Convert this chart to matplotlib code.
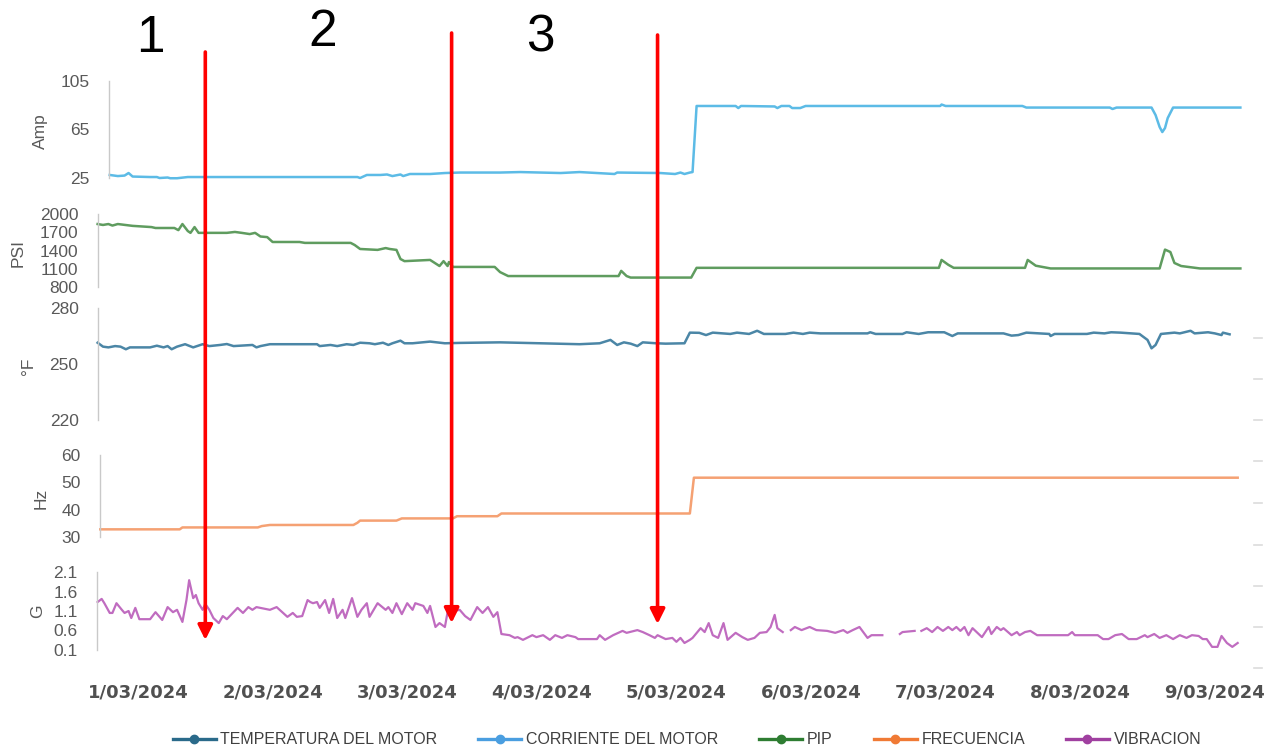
import matplotlib
matplotlib.use("Agg")
import matplotlib.pyplot as plt
from matplotlib.lines import Line2D

nan = float("nan")

# ---- data (time in days since 1/03/2024 00:00) ----
date_labels = ["1/03/2024", "2/03/2024", "3/03/2024", "4/03/2024", "5/03/2024",
               "6/03/2024", "7/03/2024", "8/03/2024", "9/03/2024"]
date_ticks = [0, 1, 2, 3, 4, 5, 6, 7, 8]

# motor current (Amp)
amp_t = [-0.21, -0.15, -0.10, -0.07, -0.04, 0.09, 0.14, 0.16, 0.22, 0.24,
         0.29, 0.37, 0.91, 1.63, 1.65, 1.70, 1.80, 1.85, 1.89, 1.95,
         1.97, 2.02, 2.17, 2.28, 2.39, 2.69, 2.84, 3.14, 3.28, 3.54,
         3.56, 3.88, 3.99, 4.03, 4.06, 4.10, 4.12, 4.15, 4.44, 4.46,
         4.48, 4.73, 4.75, 4.78, 4.84, 4.86, 4.92, 4.96, 5.96, 5.97,
         6.00, 6.57, 6.60, 7.22, 7.24, 7.27, 7.53, 7.56, 7.59, 7.61,
         7.63, 7.65, 7.69, 8.19]
amp_v = [27.5, 26.6, 27.0, 29.1, 26.2, 25.8, 25.8, 25.0, 25.4, 24.8,
         24.8, 25.8, 25.8, 25.8, 25.0, 27.5, 27.5, 27.9, 26.6, 27.9,
         26.6, 28.3, 28.3, 29.1, 29.5, 29.5, 29.9, 29.1, 29.9, 28.3,
         29.5, 29.1, 28.3, 29.5, 28.3, 29.5, 29.9, 84.4, 84.4, 82.7,
         84.4, 84.0, 82.7, 84.4, 84.4, 82.7, 82.7, 84.4, 84.4, 85.6,
         84.4, 84.4, 83.1, 83.1, 81.9, 83.1, 83.1, 76.9, 67.1, 62.9,
         66.2, 74.4, 83.1, 83.1]

# pump intake pressure (PSI)
psi_t = [-0.30, -0.26, -0.22, -0.19, -0.15, -0.04, 0.10, 0.13, 0.27, 0.30,
         0.33, 0.37, 0.39, 0.42, 0.45, 0.66, 0.72, 0.77, 0.83, 0.87,
         0.91, 0.96, 1.00, 1.20, 1.24, 1.58, 1.61, 1.65, 1.78, 1.84,
         1.87, 1.92, 1.95, 1.98, 2.17, 2.24, 2.27, 2.30, 2.31, 2.34,
         2.65, 2.69, 2.75, 3.57, 3.59, 3.63, 3.66, 4.11, 4.15, 5.95,
         5.97, 6.02, 6.06, 6.59, 6.61, 6.67, 6.78, 7.59, 7.63, 7.67,
         7.70, 7.75, 7.89, 8.19]
psi_v = [1835, 1820, 1835, 1810, 1835, 1805, 1785, 1770, 1770, 1735,
         1835, 1720, 1690, 1785, 1690, 1690, 1705, 1690, 1670, 1690,
         1630, 1620, 1540, 1540, 1525, 1525, 1490, 1425, 1410, 1440,
         1425, 1410, 1260, 1225, 1245, 1145, 1225, 1145, 1210, 1130,
         1130, 1045, 980, 980, 1065, 980, 955, 955, 1115, 1115,
         1245, 1165, 1115, 1115, 1245, 1150, 1105, 1105, 1415, 1375,
         1195, 1145, 1105, 1105]

# motor temperature (°F)
temp_t = [-0.30, -0.26, -0.22, -0.17, -0.13, -0.09, -0.06, 0.09, 0.14, 0.19,
          0.22, 0.25, 0.29, 0.35, 0.41, 0.48, 0.53, 0.61, 0.66, 0.71,
          0.85, 0.88, 0.91, 0.98, 1.33, 1.35, 1.43, 1.48, 1.55, 1.60,
          1.65, 1.72, 1.76, 1.82, 1.86, 1.89, 1.95, 1.98, 2.04, 2.17,
          2.28, 2.39, 2.69, 2.99, 3.28, 3.43, 3.51, 3.56, 3.61, 3.66,
          3.71, 3.75, 3.85, 3.92, 4.06, 4.10, 4.17, 4.22, 4.27, 4.40,
          4.45, 4.54, 4.60, 4.65, 4.81, 4.87, 4.94, 4.99, 5.07, 5.42,
          5.44, 5.48, 5.68, 5.71, 5.80, 5.87, 5.99, 6.05, 6.09, 6.43,
          6.49, 6.54, 6.60, 6.77, 6.78, 6.81, 7.05, 7.10, 7.18, 7.23,
          7.30, 7.44, 7.50, 7.53, 7.56, 7.60, 7.70, 7.74, 7.82, 7.85,
          7.95, 8.00, 8.05, 8.06, 8.11]
temp_v = [261.4, 259.3, 258.9, 259.6, 259.3, 257.9, 258.9, 258.9, 259.8, 258.9,
          259.6, 257.9, 259.3, 260.6, 258.9, 260.6, 259.6, 260.2, 260.7, 259.6,
          260.2, 258.9, 259.6, 260.6, 260.6, 259.6, 260.2, 259.6, 260.6, 260.2,
          261.4, 261.1, 260.6, 261.4, 260.2, 261.1, 262.5, 261.1, 261.1, 262.0,
          261.1, 261.3, 261.6, 261.1, 260.6, 261.1, 262.9, 260.2, 261.6, 260.9,
          259.6, 261.6, 261.1, 260.9, 261.1, 266.8, 266.7, 265.5, 266.8, 266.1,
          266.8, 266.1, 267.8, 266.1, 266.1, 266.8, 266.1, 266.8, 266.4, 266.4,
          267.0, 266.1, 266.1, 267.0, 266.1, 267.0, 267.0, 265.0, 266.4, 266.4,
          265.2, 265.5, 266.8, 266.1, 265.0, 266.1, 266.1, 266.8, 266.4, 267.0,
          266.8, 266.1, 262.9, 258.4, 260.2, 266.1, 266.8, 266.4, 267.8, 266.4,
          267.0, 266.4, 265.5, 266.8, 265.9]

# drive frequency (Hz)
hz_t = [-0.28, 0.31, 0.33, 0.89, 0.92, 0.98, 1.60, 1.63, 1.65, 1.92,
        1.96, 2.34, 2.37, 2.67, 2.70, 4.10, 4.13, 8.17]
hz_v = [32.8, 32.8, 33.5, 33.5, 34.0, 34.4, 34.4, 35.2, 36.0, 36.0,
        36.8, 36.8, 37.6, 37.6, 38.6, 38.6, 51.7, 51.7]

# vibration (G); nan marks missing readings
vib_t = [-0.30, -0.27, -0.25, -0.21, -0.19, -0.16, -0.12, -0.10, -0.07, -0.05,
         -0.02, 0.01, 0.09, 0.13, 0.18, 0.22, 0.26, 0.29, 0.33, 0.36,
         0.38, 0.41, 0.43, 0.45, 0.48, 0.50, 0.53, 0.56, 0.60, 0.63,
         0.66, 0.74, 0.78, 0.82, 0.85, 0.88, 0.98, 1.03, 1.11, 1.15,
         1.18, 1.22, 1.26, 1.28, 1.30, 1.33, 1.35, 1.39, 1.42, 1.45,
         1.48, 1.52, 1.54, 1.59, 1.63, 1.66, 1.70, 1.72, 1.78, 1.84,
         1.86, 1.89, 1.92, 1.96, 2.00, 2.04, 2.06, 2.12, 2.15, 2.17,
         2.21, 2.24, 2.28, 2.30, 2.39, 2.43, 2.47, 2.52, 2.56, 2.60,
         2.64, 2.67, 2.70, 2.76, 2.80, 2.82, 2.86, 2.93, 2.96, 3.01,
         3.06, 3.10, 3.15, 3.19, 3.25, 3.27, 3.41, 3.43, 3.47, 3.53,
         3.60, 3.63, 3.71, 3.75, 3.80, 3.84, 3.86, 3.92, 3.97, 4.00,
         4.03, 4.06, 4.10, 4.12, 4.18, 4.21, 4.24, 4.27, 4.31, 4.35,
         4.38, 4.44, 4.49, 4.53, 4.58, 4.62, 4.67, 4.70, 4.73, 4.75,
         4.79, 4.82, 4.85, 4.88, 4.93, 4.99, 5.04, 5.12, 5.18, 5.24,
         5.27, 5.31, 5.36, 5.42, 5.45, 5.53, 5.60, 5.66, 5.68, 5.77,
         5.80, 5.82, 5.86, 5.90, 5.94, 5.98, 6.02, 6.05, 6.08, 6.11,
         6.14, 6.17, 6.20, 6.27, 6.32, 6.34, 6.38, 6.41, 6.43, 6.49,
         6.53, 6.55, 6.59, 6.63, 6.68, 6.91, 6.94, 6.96, 7.13, 7.17,
         7.21, 7.26, 7.31, 7.36, 7.42, 7.48, 7.50, 7.55, 7.59, 7.64,
         7.69, 7.74, 7.79, 7.83, 7.88, 7.91, 7.94, 7.98, 8.02, 8.05,
         8.09, 8.13, 8.17]
vib_v = [1.33, 1.41, 1.30, 1.05, 1.05, 1.30, 1.13, 1.05, 1.10, 0.92,
         1.18, 0.89, 0.89, 1.07, 0.87, 1.20, 1.07, 1.13, 0.82, 1.38,
         1.89, 1.43, 1.51, 1.30, 1.13, 1.28, 1.13, 0.92, 0.79, 0.97,
         0.89, 1.18, 1.05, 1.20, 1.13, 1.20, 1.13, 1.20, 0.95, 1.05,
         0.95, 0.97, 1.38, 1.33, 1.30, 1.33, 1.18, 1.38, 1.05, 1.41,
         0.92, 1.13, 0.92, 1.43, 0.95, 1.13, 1.30, 0.95, 1.30, 1.13,
         1.20, 1.05, 1.30, 1.02, 1.30, 1.13, 1.30, 1.23, 1.05, 1.23,
         0.69, 0.79, 0.69, 1.07, 1.13, 0.97, 0.87, 1.20, 1.05, 1.20,
         0.95, 1.07, 0.51, 0.48, 0.41, 0.43, 0.36, 0.48, 0.43, 0.48,
         0.36, 0.48, 0.41, 0.48, 0.43, 0.38, 0.38, 0.48, 0.36, 0.48,
         0.59, 0.54, 0.61, 0.56, 0.48, 0.41, 0.48, 0.38, 0.41, 0.31,
         0.41, 0.28, 0.36, 0.41, 0.66, 0.56, 0.79, 0.48, 0.41, 0.79,
         0.36, 0.54, 0.43, 0.36, 0.41, 0.54, 0.56, 0.69, 1.00, 0.66,
         0.56, nan, 0.61, 0.69, 0.61, 0.69, 0.61, 0.59, 0.54, 0.61,
         0.54, 0.61, 0.69, 0.41, 0.48, 0.48, nan, 0.51, 0.56, 0.59,
         nan, 0.59, 0.66, 0.56, 0.69, 0.59, 0.69, 0.61, 0.69, 0.59,
         0.69, 0.48, 0.66, 0.43, 0.69, 0.51, 0.69, 0.61, 0.66, 0.48,
         0.56, 0.48, 0.56, 0.59, 0.48, 0.48, 0.56, 0.48, 0.48, 0.38,
         0.38, 0.48, 0.51, 0.38, 0.38, 0.48, 0.43, 0.51, 0.41, 0.48,
         0.38, 0.48, 0.41, 0.48, 0.46, 0.38, 0.38, 0.18, 0.18, 0.46,
         0.28, 0.18, 0.28]

# events marked on the timeline and the phase numbers between them
event_days = [0.50, 2.33, 3.86]
phase_names = ["1", "2", "3"]
phase_days = [0.09, 1.37, 2.99]

legend_names = ["TEMPERATURA DEL MOTOR", "CORRIENTE DEL MOTOR", "PIP",
                "FRECUENCIA", "VIBRACION"]

# ---- layout helpers (figure pixels) ----
W, H = 1273, 751
DAY0_PX, PX_PER_DAY = 138.0, 134.6
RIGHT_PX = 1245
TXT = "#595959"
SPINE = "#c9c9c9"
FONT = ["Liberation Sans", "DejaVu Sans"]

plt.rcParams["font.family"] = FONT

fig = plt.figure(figsize=(W / 100, H / 100), dpi=100)
fig.patch.set_facecolor("white")


def day_to_px(d):
    return DAY0_PX + d * PX_PER_DAY


def panel(left, top, bottom, ylim, yticks, ytick_labels=None):
    ax = fig.add_axes([left / W, 1 - bottom / H, (RIGHT_PX - left) / W, (bottom - top) / H])
    ax.set_xlim((left - DAY0_PX) / PX_PER_DAY, (RIGHT_PX - DAY0_PX) / PX_PER_DAY)
    ax.set_ylim(*ylim)
    ax.patch.set_alpha(0)
    for s in ("top", "right", "bottom"):
        ax.spines[s].set_visible(False)
    ax.spines["left"].set_color(SPINE)
    ax.spines["left"].set_linewidth(1.0)
    ax.set_yticks(yticks)
    if ytick_labels is not None:
        ax.set_yticklabels(ytick_labels)
    ax.set_xticks([])
    ax.tick_params(axis="y", length=0, pad=14, labelsize=12.5, labelcolor=TXT)
    return ax


ax_amp = panel(109, 81, 178, (25, 105), [25, 65, 105])
ax_psi = panel(98, 214, 287, (800, 2000), [800, 1100, 1400, 1700, 2000])
ax_tmp = panel(98, 308, 420, (220, 280), [220, 250, 280])
ax_hz = panel(100, 455, 537, (30, 60), [30, 40, 50, 60])
ax_g = panel(97, 572, 650, (0.1, 2.1), [0.1, 0.6, 1.1, 1.6, 2.1],
             ["0.1", "0.6", "1.1", "1.6", "2.1"])

c_amp, c_psi, c_tmp, c_hz, c_g = "#5cbbe6", "#5f9c5f", "#4b86a6", "#f5a173", "#c06cc0"
lw = 1.8
ax_amp.plot(amp_t, amp_v, color=c_amp, lw=lw, clip_on=False, solid_joinstyle="round")
ax_psi.plot(psi_t, psi_v, color=c_psi, lw=lw, clip_on=False, solid_joinstyle="round")
ax_tmp.plot(temp_t, temp_v, color=c_tmp, lw=lw, clip_on=False, solid_joinstyle="round")
ax_hz.plot(hz_t, hz_v, color=c_hz, lw=lw, clip_on=False, solid_joinstyle="round")
ax_g.plot(vib_t, vib_v, color=c_g, lw=1.6, clip_on=False, solid_joinstyle="round")

# date labels under the bottom panel
ax_g.set_xticks(date_ticks)
ax_g.set_xticklabels(date_labels)
ax_g.tick_params(axis="x", length=0, pad=24, labelsize=13, labelcolor="#505050")
for lab in ax_g.get_xticklabels():
    lab.set_fontfamily(["DejaVu Sans"])
    lab.set_fontweight("bold")

# axis titles
for name, x, y in [("Amp", 40, 131), ("PSI", 18, 253), ("°F", 29, 366),
                   ("Hz", 41, 498), ("G", 38, 611)]:
    fig.text(x / W, 1 - y / H, name, rotation=90, ha="center", va="center",
             fontsize=12.5, color=TXT)

# overlay in pixel coordinates for the event arrows
ov = fig.add_axes([0, 0, 1, 1], zorder=10)
ov.set_xlim(0, W)
ov.set_ylim(H, 0)
ov.axis("off")
ov.patch.set_alpha(0)

arrow_spans = [(52, 640), (33, 623), (35, 624)]
for d, (y0, y1) in zip(event_days, arrow_spans):
    x = day_to_px(d)
    ov.annotate("", xy=(x, y1), xytext=(x, y0),
                arrowprops=dict(arrowstyle="-|>", color="#ff0000", lw=2.6,
                                mutation_scale=22, shrinkA=0, shrinkB=0))

for name, d, y in zip(phase_names, phase_days, [38, 32, 38]):
    ov.text(day_to_px(d), y, name, ha="center", va="center", fontsize=37, color="black")

# faint tick marks on the right edge
for y in [338, 379, 420, 461, 503, 545, 586, 627, 668]:
    ov.plot([1254, 1262], [y, y], color="#dcdcdc", lw=1.2)

# legend
handle_colors = ["#2a6a8a", "#4a9ee0", "#2e7d32", "#f07a35", "#a040a0"]
handles = [Line2D([0], [0], color=c, lw=2.4, marker="o", markersize=6) for c in handle_colors]
leg = fig.legend(handles, legend_names, loc="center", ncol=5, frameon=False,
                 bbox_to_anchor=(687 / W, 1 - 740 / H), fontsize=11.5,
                 handlelength=2.7, handletextpad=0.3, columnspacing=2.55)
for t in leg.get_texts():
    t.set_color("#404040")

fig.savefig("out.png", dpi=100, facecolor="white")
